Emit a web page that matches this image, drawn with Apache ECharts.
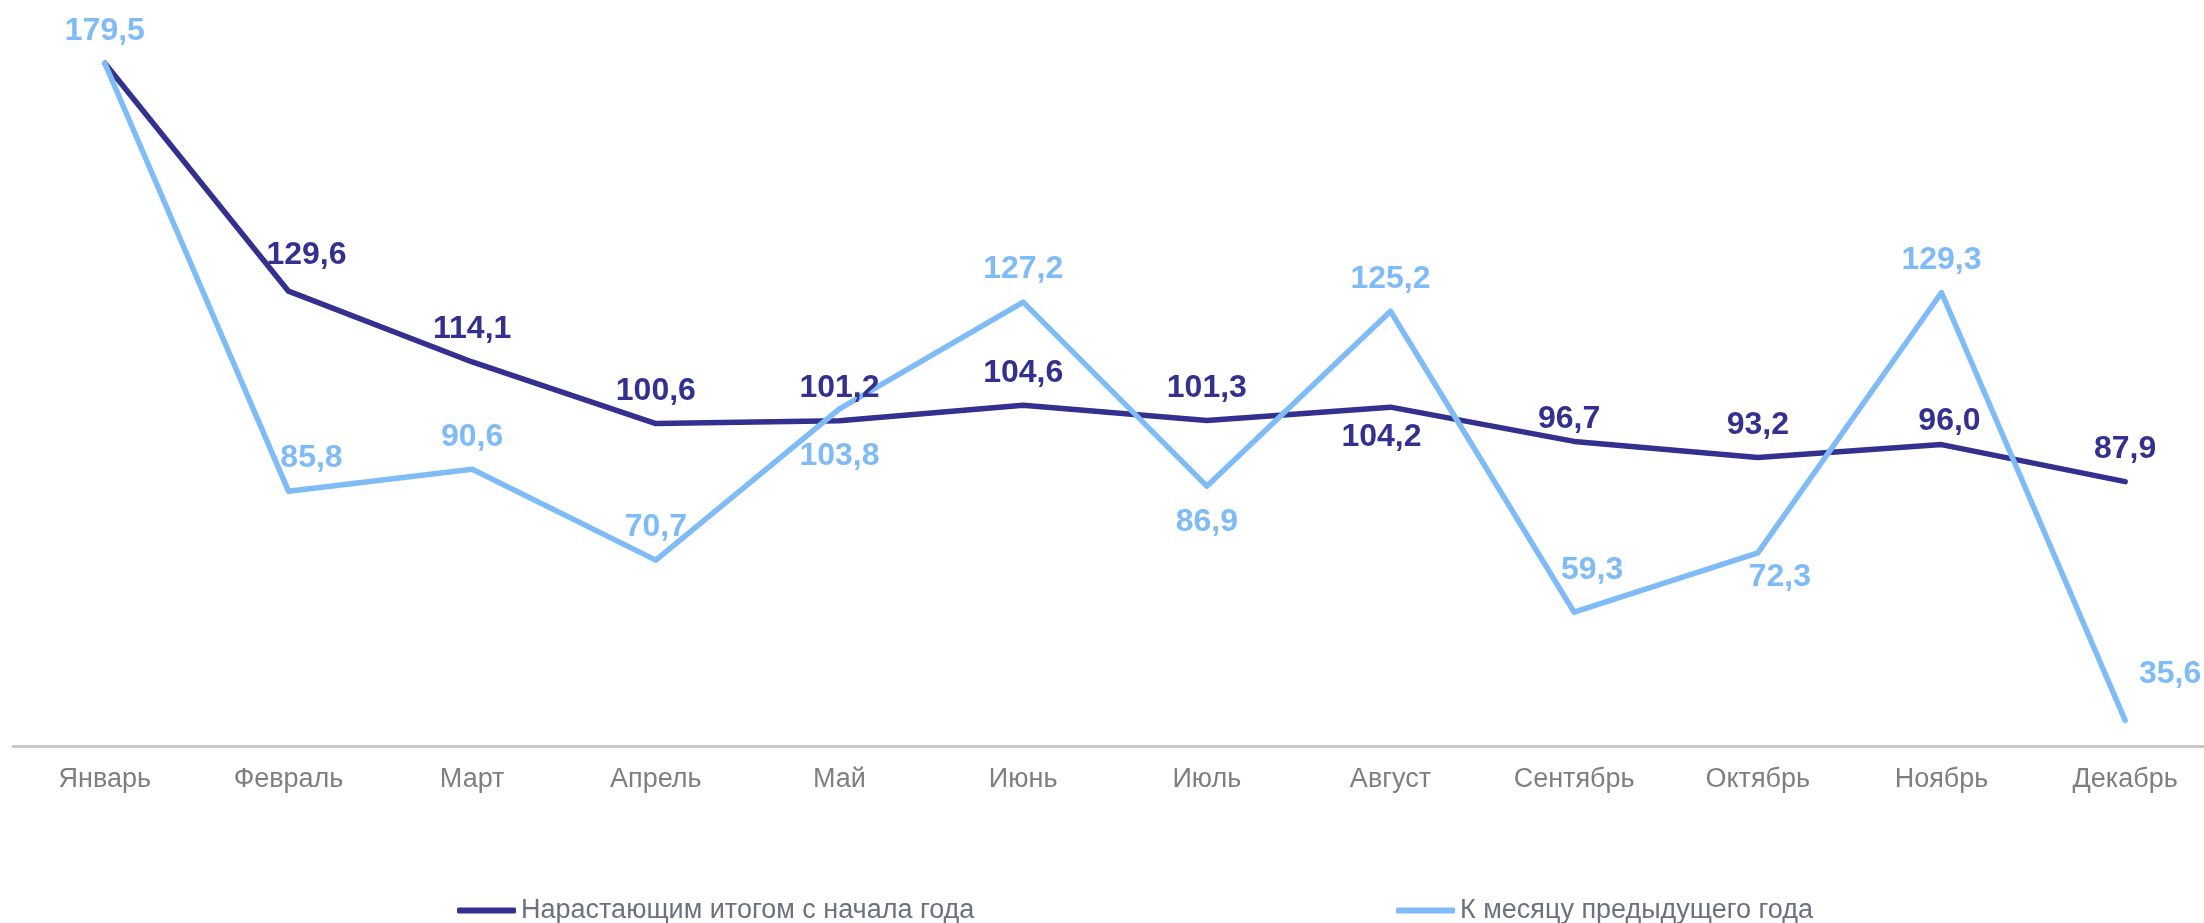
<!DOCTYPE html>
<html>
<head>
<meta charset="utf-8">
<script src="https://cdn.jsdelivr.net/npm/echarts@6/dist/echarts.min.js"></script>
<style>
  html, body { margin: 0; padding: 0; background: #fff; }
  #chart { width: 2204px; height: 923px; }
</style>
</head>
<body>
<div id="chart"></div>
<script>
// месяцы
const months = ['Январь', 'Февраль', 'Март', 'Апрель', 'Май', 'Июнь', 'Июль', 'Август', 'Сентябрь', 'Октябрь', 'Ноябрь', 'Декабрь']
const cumulativeName = 'Нарастающим итогом с начала года'
const cumulative = [179.5, 129.6, 114.1, 100.6, 101.2, 104.6, 101.3, 104.2, 96.7, 93.2, 96.0, 87.9]
const prevYearName = 'К месяцу предыдущего года'
const prevYear = [179.5, 85.8, 90.6, 70.7, 103.8, 127.2, 86.9, 125.2, 59.3, 72.3, 129.3, 35.6]

const darkColor = '#33308f'
const lightColor = '#7ebbf7'

// подписи: куда сдвинуть отдельные точки
const darkLabelTweaks = {
    0: { show: false },
    1: { offset: [18, -3] },
    7: { position: 'bottom', offset: [-9, -2] },
    8: { offset: [-5, 10] },
    10: { offset: [8, 9] },
}
const lightLabelTweaks = {
    1: { offset: [23, -1] },
    4: { position: 'bottom', offset: [0, 15] },
    6: { position: 'bottom', offset: [0, 4] },
    8: { offset: [18, -10] },
    9: { position: 'bottom', offset: [22, -8] },
    11: { offset: [45, -14] },
}

const fmt = (v) => v.toFixed(1).replace('.', ',')

const buildData = (values, tweaks) => values.map((v, i) => {
    const item = { value: v }
    if (tweaks[i]) item.label = tweaks[i]
    return item
})

const lineSeries = (name, values, color, tweaks) => ({
    name: name,
    type: 'line',
    data: buildData(values, tweaks),
    symbol: 'circle',
    symbolSize: 1,
    showSymbol: true,
    color: color,
    itemStyle: { color: color, opacity: 0 },
    lineStyle: { width: 5.5, color: color, cap: 'round', join: 'round' },
    label: {
        show: true,
        position: 'top',
        distance: 16,
        opacity: 1,
        color: color,
        fontSize: 32,
        fontWeight: 'bold',
        fontFamily: 'Liberation Sans, Arial, sans-serif',
        formatter: (p) => fmt(p.value),
    },
})

const legendBase = {
    top: 892,
    icon: 'roundRect',
    itemWidth: 59,
    itemHeight: 6,
    itemGap: 4,
    itemStyle: { opacity: 1 },
    textStyle: {
        color: '#6d7080',
        fontSize: 27,
        fontFamily: 'Liberation Sans, Arial, sans-serif',
    },
}

const chart = echarts.init(document.getElementById('chart'))
chart.setOption({
    animation: false,
    backgroundColor: '#fff',
    grid: { left: 13, width: 2204, top: 61, bottom: 177, outerBoundsMode: 'none' },
    legend: [
        Object.assign({ left: 452, data: [cumulativeName] }, legendBase),
        Object.assign({ left: 1391, data: [prevYearName] }, legendBase),
    ],
    xAxis: {
        type: 'category',
        data: months,
        boundaryGap: true,
        axisLine: { lineStyle: { color: '#c8c8c8', width: 3 } },
        axisTick: { show: false },
        axisLabel: {
            color: '#7f7f7f',
            fontSize: 27,
            margin: 20,
            interval: 0,
            fontFamily: 'Liberation Sans, Arial, sans-serif',
        },
    },
    yAxis: {
        type: 'value',
        min: 30,
        max: 180,
        show: false,
        splitLine: { show: false },
    },
    series: [
        lineSeries(cumulativeName, cumulative, darkColor, darkLabelTweaks),
        lineSeries(prevYearName, prevYear, lightColor, lightLabelTweaks),
    ],
})
</script>
</body>
</html>
